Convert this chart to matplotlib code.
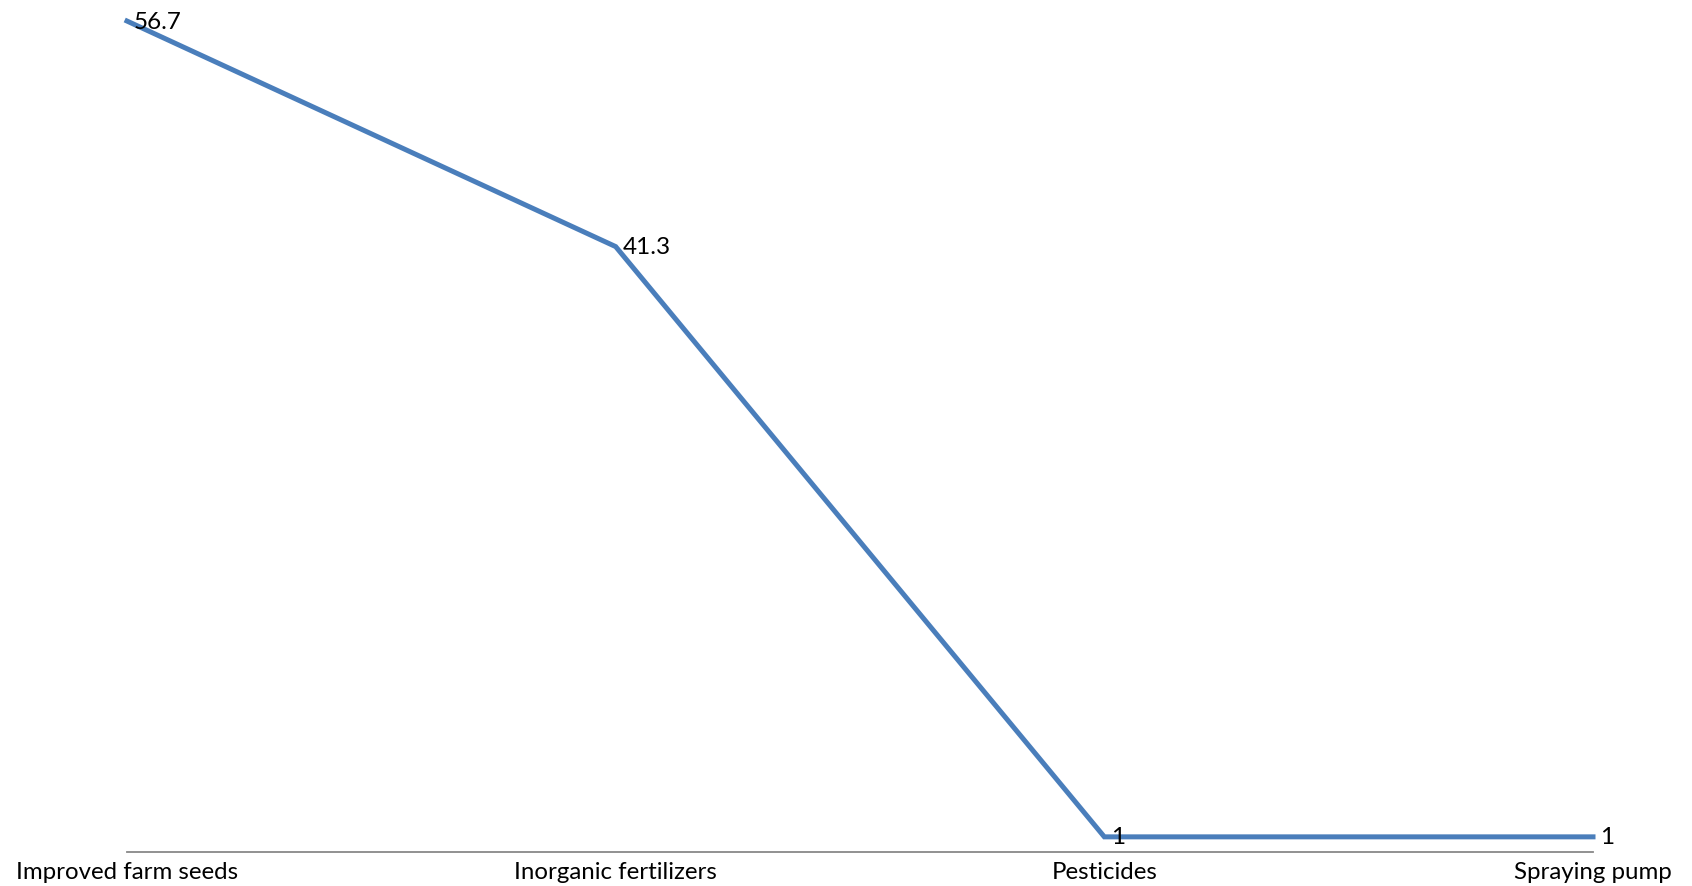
import matplotlib
matplotlib.use("Agg")
import matplotlib.pyplot as plt

plt.rcParams['font.family'] = ['Lato', 'DejaVu Sans']

categories = ["Improved farm seeds", "Inorganic fertilizers", "Pesticides", "Spraying pump"]
values = [56.7, 41.3, 1, 1]
value_labels = ["56.7", "41.3", "1", "1"]

fig = plt.figure(figsize=(16.92, 8.87), dpi=100)
W, H = 1692, 887
left, right = 127 / W, 1593 / W
bottom = (H - 852.5) / H
top = (H - 3) / H
ax = fig.add_axes([left, bottom, right - left, top - bottom])

x = list(range(len(categories)))
ax.plot(x, values, color="#4A7EBB", linewidth=3.6, solid_joinstyle="miter", clip_on=False, zorder=3)

for xi, v, lab in zip(x, values, value_labels):
    ax.annotate(lab, (xi, v), xytext=(5, 0), textcoords="offset points",
                ha="left", va="center", fontsize=17.5, color="black", zorder=4)

ax.set_xlim(0, len(categories) - 1)
ax.set_ylim(0, 58)
ax.set_xticks(x)
ax.set_xticklabels(categories, fontsize=17.3)
ax.tick_params(axis="x", length=0, pad=6.5)
ax.set_yticks([])
for s in ["top", "right", "left"]:
    ax.spines[s].set_visible(False)
ax.spines["bottom"].set_color("#888888")
ax.spines["bottom"].set_linewidth(1.3)
ax.patch.set_alpha(0)

fig.savefig("out.png", dpi=100)
